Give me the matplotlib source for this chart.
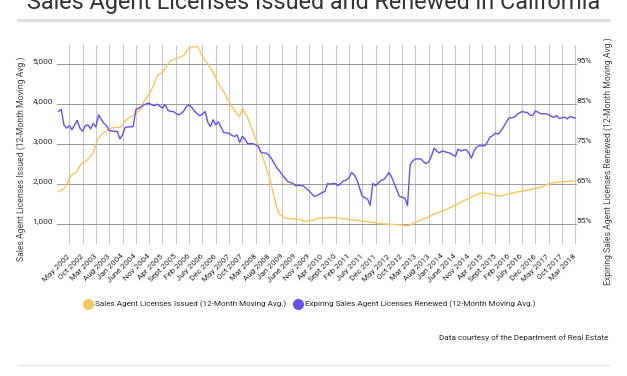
import matplotlib
matplotlib.use("Agg")
import matplotlib.pyplot as plt
from matplotlib.lines import Line2D

plt.rcParams["font.family"] = ["Roboto", "DejaVu Sans"]

# monthly values, Jan 2002 .. Mar 2018
issued = [
    1810, 1840, 1880, 1980, 2150, 2230, 2270, 2330, 2450, 2540, 2560, 2620,
    2700, 2780, 3000, 3150, 3230, 3290, 3330, 3370, 3400, 3420, 3410, 3420,
    3480, 3580, 3640, 3680, 3720, 3760, 3820, 3910, 4060, 4160, 4260, 4370,
    4540, 4700, 4760, 4780, 4900, 5000, 5080, 5110, 5140, 5160, 5190, 5220,
    5330, 5390, 5420, 5440, 5440, 5340, 5200, 5080, 5020, 4900, 4800, 4660,
    4520, 4410, 4320, 4170, 4080, 3950, 3850, 3760, 3690, 3880, 3780, 3660,
    3480, 3320, 3120, 2940, 2760, 2600, 2400, 2200, 1940, 1650, 1380, 1250,
    1190, 1160, 1140, 1130, 1130, 1130, 1120, 1100, 1070, 1070, 1080, 1080,
    1100, 1140, 1150, 1150, 1150, 1160, 1160, 1165, 1160, 1150, 1140, 1130,
    1125, 1110, 1105, 1100, 1090, 1080, 1070, 1065, 1060, 1050, 1040, 1030,
    1020, 1010, 1005, 1000, 995, 990, 990, 985, 980, 975, 965, 955,
    975, 1010, 1040, 1070, 1100, 1130, 1150, 1180, 1210, 1250, 1275, 1300,
    1330, 1350, 1380, 1410, 1440, 1470, 1510, 1540, 1580, 1610, 1640, 1670,
    1710, 1740, 1760, 1775, 1770, 1760, 1755, 1740, 1725, 1710, 1705, 1720,
    1740, 1755, 1770, 1785, 1800, 1810, 1820, 1835, 1845, 1860, 1880, 1895,
    1900, 1915, 1940, 1980, 2005, 2020, 2035, 2045, 2050, 2055, 2060, 2065,
    2070, 2075, 2080,
]
renewed = [
    83.2, 83.7, 79.8, 79.0, 79.6, 78.6, 79.8, 80.9, 79.0, 78.2, 79.6, 79.8,
    78.8, 80.2, 79.3, 82.3, 81.2, 80.2, 79.6, 78.4, 78.3, 78.2, 78.2, 76.3,
    77.3, 79.2, 79.3, 79.3, 79.4, 83.6, 84.0, 84.3, 84.8, 85.1, 85.25, 84.8,
    84.6, 85.0, 84.5, 84.0, 84.9, 83.5, 83.15, 83.2, 82.7, 82.3, 82.7, 83.3,
    84.4, 84.8, 84.2, 83.3, 82.6, 82.1, 82.5, 83.15, 80.5, 79.4, 81.1, 79.8,
    80.6, 79.2, 77.9, 77.8, 77.75, 77.2, 76.9, 77.3, 75.4, 76.9, 76.2, 75.1,
    75.1, 75.1, 74.8, 74.4, 73.0, 72.75, 72.75, 72.2, 71.3, 70.1, 69.0, 68.2,
    67.3, 66.5, 65.65, 65.4, 65.2, 64.6, 64.7, 64.6, 64.5, 63.9, 63.3, 62.6,
    61.9, 62.2, 62.5, 62.9, 63.15, 65.1, 65.0, 65.1, 65.1, 64.6, 65.2, 65.8,
    66.0, 66.5, 67.9, 67.3, 66.1, 64.0, 62.0, 61.6, 61.25, 59.7, 65.2, 64.6,
    65.2, 65.9, 66.1, 66.8, 67.9, 66.8, 65.2, 63.5, 61.9, 61.7, 61.5, 59.6,
    69.8, 70.8, 71.3, 71.3, 71.3, 70.6, 70.1, 70.6, 72.0, 74.0, 73.2, 72.8,
    73.3, 73.1, 72.9, 72.75, 72.3, 71.9, 73.75, 73.3, 73.5, 73.6, 72.8, 71.5,
    73.3, 74.25, 74.6, 74.6, 74.6, 75.5, 76.8, 77.1, 77.75, 77.5, 78.2, 79.2,
    80.4, 81.5, 81.6, 81.7, 82.3, 82.8, 83.15, 83.0, 82.9, 82.3, 82.1, 83.3,
    83.0, 82.6, 82.6, 82.6, 82.4, 81.9, 81.75, 82.1, 81.4, 81.6, 81.75, 81.3,
    81.9, 81.7, 81.5,
]
tick_labels = [
    "May 2002", "Oct 2002", "Mar 2003", "Aug 2003", "Jan 2004", "June 2004",
    "Nov 2004", "Apr 2005", "Sept 2005", "Feb 2006", "July 2006", "Dec 2006",
    "May 2007", "Oct 2007", "Mar 2008", "Aug 2008", "Jan 2009", "June 2009",
    "Nov 2009", "Apr 2010", "Sept 2010", "Feb 2011", "July 2011", "Dec 2011",
    "May 2012", "Oct 2012", "Mar 2013", "Aug 2013", "Jan 2014", "June 2014",
    "Nov 2014", "Apr 2015", "Sept 2015", "Feb 2016", "July 2016", "Dec 2016",
    "May 2017", "Oct 2017", "Mar 2018",
]
left_ticks = [1000, 2000, 3000, 4000, 5000]
right_ticks = [55, 65, 75, 85, 95]

YELLOW = "#f4c65f"
PURPLE = "#6a50e0"
TXT = "#2a2a2a"

months = list(range(len(issued)))
tick_pos = [4 + 5 * i for i in range(len(tick_labels))]

fig = plt.figure(figsize=(6.27, 3.76), dpi=100, facecolor="white")
ax = fig.add_axes([57.3 / 627, 1 - 244 / 376, 519.3 / 627, 199 / 376])
ax2 = ax.twinx()

ax.plot(months, issued, color=YELLOW, lw=1.0, zorder=3)
ax2.plot(months, renewed, color=PURPLE, lw=1.0, zorder=3)

ax.set_xlim(-0.5, len(issued) - 0.5)
ax.set_ylim(500, 5480)
ax2.set_ylim(50, 99.8)

ax.set_xticks(tick_pos)
ax.set_xticklabels(tick_labels, rotation=45, ha="right", va="center",
                   rotation_mode="anchor", fontsize=5.9, color=TXT)
ax.tick_params(axis="x", length=0, pad=8)

ax.set_yticks(left_ticks)
ax.set_yticklabels([f"{v:,}" for v in left_ticks], fontsize=6.0, color=TXT)
ax.tick_params(axis="y", length=0, pad=3)
for t in ax.get_yticklabels():
    t.set_va("bottom")

ax2.set_yticks(right_ticks)
ax2.set_yticklabels([f"{v}%" for v in right_ticks], fontsize=6.0, color=TXT)
ax2.tick_params(axis="y", length=0, pad=0)
for t in ax2.get_yticklabels():
    t.set_va("bottom")

ax.grid(axis="x", color="#c8c8c8", lw=0.8)
ax.grid(axis="y", color="#999999", lw=0.7)
ax.set_axisbelow(True)
for a in (ax, ax2):
    for s in a.spines.values():
        s.set_visible(False)

ax.set_ylabel("Sales Agent Licenses Issued (12-Month Moving Avg.)",
              fontsize=6.2, color="#444444")
ax.yaxis.set_label_coords((26 - 57.3) / 519.3, (244 - 159) / 199)
ax2.set_ylabel("Expiring Sales Agent Licenses Renewed (12-Month Moving Avg.)",
               fontsize=6.2, color="#444444")
ax2.yaxis.set_label_coords((603 - 57.3) / 519.3, (244 - 161) / 199)

# title (cropped at the top in the source) and rules
fig.text(0.5, 1 - 9.5 / 376, "Sales Agent Licenses Issued and Renewed in California",
         ha="center", va="baseline", fontsize=16.8, color="#333333")
fig.add_artist(Line2D([18 / 627, 609 / 627], [1 - 20 / 376] * 2, color="#dddddd", lw=2))
fig.add_artist(Line2D([18 / 627, 609 / 627], [1 - 365 / 376] * 2, color="#e6e6e6", lw=1))

handles = [
    Line2D([], [], ls="", marker="o", ms=7, color=YELLOW),
    Line2D([], [], ls="", marker="o", ms=7, color=PURPLE),
]
fig.legend(handles,
           ["Sales Agent Licenses Issued (12-Month Moving Avg.)",
            "Expiring Sales Agent Licenses Renewed (12-Month Moving Avg.)"],
           loc="center", bbox_to_anchor=(310 / 627, 1 - 304.6 / 376), ncol=2,
           frameon=False, fontsize=5.9, handletextpad=0.4, columnspacing=0.9,
           handlelength=1.0, labelcolor=TXT)

fig.text(608 / 627, 1 - 338 / 376, "Data courtesy of the Department of Real Estate",
         ha="right", va="center", fontsize=5.9, color=TXT)

fig.savefig("out.png", dpi=100, facecolor="white")
